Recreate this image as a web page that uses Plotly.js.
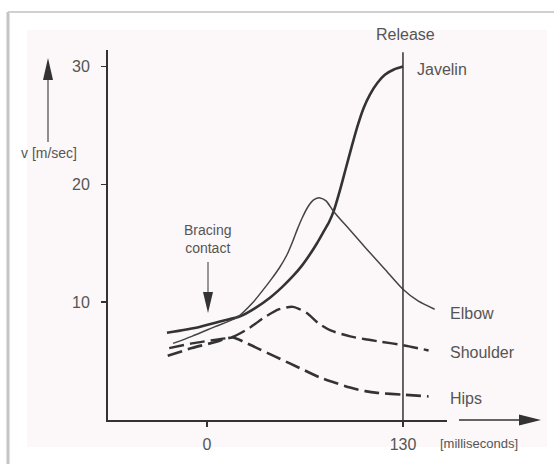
<!DOCTYPE html>
<html>
<head>
<meta charset="utf-8">
<script src="https://cdn.plot.ly/plotly-3.0.1.min.js"></script>
<style>
html,body{margin:0;padding:0;background:#fff;}
#chart{width:554px;height:464px;}
</style>
</head>
<body>
<div id="chart"></div>
<script>
// ---- data (time in ms relative to bracing contact, velocity in m/s) ----
const javelinT = [-26.5,-5,10,22,32,42,50,57,63,68,73,77,81,84,88,92,96,100,104,108,113,118,124,130];
const javelinV = [7.4,7.9,8.4,8.8,9.5,10.4,11.3,12.2,13.1,14.0,15.0,15.9,16.8,17.7,19.4,21.3,23.2,25.0,26.5,27.6,28.6,29.3,29.75,30.0];

const elbowT = [-22.5,-10,5,20,30,37,43,48,53,57,60,63,67,71,75,79,84,95,106,118,130,140,151];
const elbowV = [6.5,7.1,7.9,8.7,9.9,11.0,12.0,12.9,14.0,15.2,16.2,17.1,18.1,18.7,18.85,18.6,17.7,16.1,14.5,12.8,11.1,10.1,9.4];

const shoulderT = [-25,-10,5,17,28,38,48,57,66,74,82,95,105,115,130,147];
const shoulderV = [6.1,6.5,6.8,7.05,7.8,8.7,9.4,9.6,9.1,8.2,7.6,7.1,6.85,6.65,6.35,5.9];

const hipsT = [-26,-10,5,17,25,35,45,55,65,75,84,95,105,113,130,147];
const hipsV = [5.45,6.1,6.6,7.0,6.6,6.0,5.4,4.8,4.2,3.6,3.2,2.75,2.45,2.3,2.15,2.0];

const seriesNames = ["Javelin","Elbow","Shoulder","Hips"];
const yTicks = [10,20,30];
const yTickText = ["10","20","30"];
const xTicks = [0,130];
const xTickText = ["0","130"];
const releaseTime = 130;
const bracingTime = 0;

// ---- layout helpers (pixel -> paper, for decorations only) ----
const W = 554, H = 464;
const M = {l:108, r:107, t:50, b:44};
const PW = W - M.l - M.r, PH = H - M.t - M.b;
const px = p => (p - M.l) / PW;
const py = p => (H - M.b - p) / PH;

const FONT = "Liberation Sans, Arial, Helvetica, sans-serif";
const TXT = "#555";
const INK = "#333";

const traces = [
  {x: javelinT, y: javelinV, name: seriesNames[0], mode: "lines",
   line: {color: INK, width: 2.6, shape: "spline", smoothing: 0.7}},
  {x: elbowT, y: elbowV, name: seriesNames[1], mode: "lines",
   line: {color: "#444", width: 1.5, shape: "spline", smoothing: 0.7}},
  {x: shoulderT, y: shoulderV, name: seriesNames[2], mode: "lines",
   line: {color: INK, width: 2.4, shape: "spline", smoothing: 0.7, dash: "15px,6px"}},
  {x: hipsT, y: hipsV, name: seriesNames[3], mode: "lines",
   line: {color: INK, width: 2.6, shape: "spline", smoothing: 0.7, dash: "15px,6px"}}
];

function tri(pts){
  return "M" + pts.map(p => px(p[0]) + "," + py(p[1])).join(" L") + " Z";
}

const shapes = [
  // scanned page background
  {type:"rect", xref:"paper", yref:"paper", x0:px(27), x1:px(547), y0:py(447), y1:py(30),
   fillcolor:"#fcf7f8", line:{width:0}, layer:"below"},
  // outer frame
  {type:"line", xref:"paper", yref:"paper", x0:px(8), x1:px(8), y0:py(12), y1:py(464),
   line:{color:"#c4c4c4", width:3}, layer:"below"},
  {type:"line", xref:"paper", yref:"paper", x0:px(8), x1:px(554), y0:py(12), y1:py(12),
   line:{color:"#d0d0d0", width:2}, layer:"below"},
  // release line
  {type:"line", xref:"x", yref:"y", x0:releaseTime, x1:releaseTime, y0:-0.55, y1:31.2,
   line:{color:INK, width:1.5}},
  // y arrow
  {type:"line", xref:"paper", yref:"paper", x0:px(48), x1:px(48), y0:py(142), y1:py(76),
   line:{color:"#555", width:1.3}},
  {type:"path", xref:"paper", yref:"paper", path: tri([[43,80],[53,80],[48,58]]),
   fillcolor:"#333", line:{width:0}},
  // x arrow
  {type:"line", xref:"paper", yref:"paper", x0:px(459), x1:px(522), y0:py(420), y1:py(420),
   line:{color:INK, width:1.5}},
  {type:"path", xref:"paper", yref:"paper", path: tri([[519,414.5],[519,425.5],[541,420]]),
   fillcolor:"#333", line:{width:0}},
  // bracing arrow
  {type:"line", xref:"paper", yref:"paper", x0:px(208), x1:px(208), y0:py(262), y1:py(296),
   line:{color:"#555", width:1.2}},
  {type:"path", xref:"paper", yref:"paper", path: tri([[203,292],[213,292],[208,313]]),
   fillcolor:"#333", line:{width:0}}
];

// text labels placed in paper space (pixel positions)
const lab = (text, xPix, yPix, xanchor, size) => ({
  text, x: px(xPix), y: py(yPix), xref:"paper", yref:"paper", xanchor, yanchor:"middle",
  showarrow:false, font:{family:FONT, size, color:TXT}
});

const annotations = [
  lab("Release", 405, 35, "center", 16),
  lab(seriesNames[0], 415, 69, "left", 16),
  lab(seriesNames[1], 448, 313, "left", 16),
  lab(seriesNames[2], 448, 352, "left", 16),
  lab(seriesNames[3], 448, 398, "left", 16),
  lab("[milliseconds]", 438, 443, "left", 13),
  lab("Bracing<br>contact", 207, 239, "center", 14),
  lab("v [m/sec]", 79, 153, "right", 14)
];

const layout = {
  width: W, height: H,
  margin: M,
  paper_bgcolor: "#ffffff",
  plot_bgcolor: "rgba(0,0,0,0)",
  showlegend: false,
  font: {family: FONT, color: TXT},
  xaxis: {
    range: [-65.6, 159.2], showgrid: false, zeroline: false,
    showline: true, linecolor: INK, linewidth: 2,
    tickmode: "array", tickvals: xTicks, ticktext: xTickText,
    ticks: "outside", ticklen: 5, tickwidth: 1.2, tickcolor: INK,
    tickfont: {family: FONT, size: 16, color: TXT}, ticklabelstandoff: 4
  },
  yaxis: {
    range: [0, 31.4], showgrid: false, zeroline: false,
    showline: true, linecolor: INK, linewidth: 2,
    tickmode: "array", tickvals: yTicks, ticktext: yTickText,
    ticks: "outside", ticklen: 5, tickwidth: 1.5, tickcolor: INK,
    tickfont: {family: FONT, size: 16, color: TXT}, ticklabelstandoff: 8
  },
  shapes, annotations
};

Plotly.newPlot("chart", traces, layout, {staticPlot: true, displayModeBar: false});
</script>
</body>
</html>
